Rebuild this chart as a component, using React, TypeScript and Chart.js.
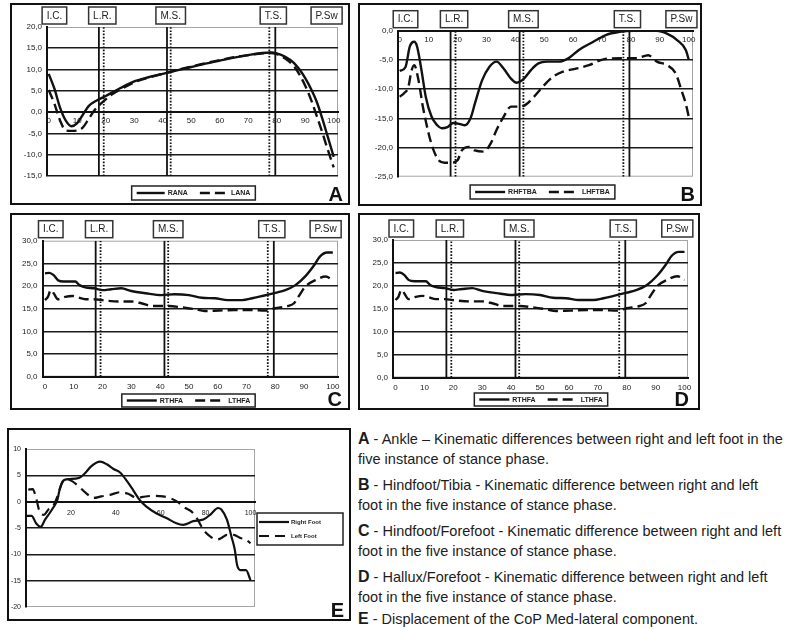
import React, { useEffect, useRef } from 'react';
import { Chart, registerables } from 'chart.js';

Chart.register(...registerables);

const FONT = '"Liberation Sans", Arial, sans-serif';

// ---- shared stance-phase annotations (% of stance) ----
const phaseSolid = [17.6, 41.5, 79.5];
const phaseDotted = [19.3, 42.8, 77.4];
const phaseNames = ['I.C.', 'L.R.', 'M.S.', 'T.S.', 'P.Sw'];
const phaseNameAt = [2, 18.8, 42.8, 78.8, 97.5];

// ---- tick values ----
const stanceTicks = [0, 10, 20, 30, 40, 50, 60, 70, 80, 90, 100];
const copXTicks = [20, 40, 60, 80, 100];
const ankleYTicks = [-15, -10, -5, 0, 5, 10, 15, 20];
const tibiaYTicks = [-25, -20, -15, -10, -5, 0];
const foreYTicks = [0, 5, 10, 15, 20, 25, 30];
const copYTicks = [-20, -15, -10, -5, 0, 5, 10];

// ---- A: ankle ----
const xRana = [0, 2, 4, 6, 8, 10, 12, 14, 17, 20, 25, 30, 35, 40, 45, 50, 55, 60, 65, 70, 75, 78, 80, 83, 86, 88, 90, 92, 94, 96, 98, 100];
const rana = [9.0, 5.5, 1.0, -2.0, -3.3, -2.6, -0.6, 1.4, 2.8, 3.8, 5.6, 7.2, 8.2, 9.0, 9.8, 10.6, 11.4, 12.1, 12.8, 13.4, 13.9, 14.0, 13.8, 13.0, 11.6, 10.0, 8.0, 5.5, 2.5, -1.5, -6.0, -10.5];
const xLana = [0, 2, 4, 6, 8, 10, 12, 14, 16, 18, 20, 22, 25, 30, 35, 40, 45, 50, 55, 60, 65, 70, 75, 78, 80, 83, 86, 88, 90, 92, 94, 96, 98, 100];
const lana = [5.2, 2.0, -2.0, -4.3, -4.4, -4.3, -3.6, -1.6, 0.4, 1.8, 3.0, 4.1, 5.3, 7.0, 8.1, 9.0, 9.9, 10.7, 11.5, 12.2, 12.9, 13.4, 13.8, 13.9, 13.6, 12.6, 10.8, 8.8, 6.2, 3.0, -0.8, -4.8, -9.0, -13.0];

// ---- B: hindfoot / tibia ----
const xRhftba = [0, 2, 3.5, 5, 6, 7.5, 9, 11, 13, 14.5, 16.5, 18.5, 21, 22.5, 24.5, 26, 28.5, 31, 33.5, 36, 38.5, 40.5, 43, 45.5, 48, 51, 55, 58.5, 62, 67, 71.5, 76, 81, 89, 92.5, 96, 99, 100];
const rhftba = [-6.9, -6.2, -2.7, -1.9, -2.7, -6.7, -11.3, -14.7, -16.2, -16.7, -16.5, -15.8, -16.0, -16.2, -15.0, -12.5, -8.5, -6.2, -5.3, -6.5, -8.2, -8.9, -8.2, -6.7, -5.6, -5.3, -5.3, -4.7, -3.3, -1.9, -0.7, -0.2, 0, 0, -0.5, -1.6, -3.3, -4.9];
const xLhftba = [0, 1.5, 3, 4, 5, 6.5, 8, 10, 11.5, 13.5, 15.5, 18, 20, 21.5, 24, 26, 29, 31.5, 33.5, 36, 38.5, 41.5, 43.5, 46.5, 49.5, 53, 56.5, 61, 65.5, 70.5, 77, 82, 86, 89, 92.5, 95.5, 97.5, 99, 100];
const lhftba = [-11.3, -10.7, -9.6, -7.0, -5.9, -8.5, -13.0, -17.6, -20.2, -22.2, -22.6, -22.6, -22.2, -20.5, -19.9, -20.5, -20.7, -19.3, -17.0, -14.7, -13.0, -13.0, -12.7, -11.3, -9.6, -7.9, -7.0, -6.5, -5.9, -4.9, -4.7, -4.7, -4.2, -5.3, -5.9, -7.3, -10.2, -12.5, -14.7];

// ---- C / D: forefoot ----
const xRthfa = [0, 1.5, 3, 4.5, 6.5, 8.5, 10.5, 12, 14, 17, 20, 23, 26.5, 30, 35, 40.5, 45, 50, 54.5, 59, 63.5, 68.5, 72, 75.5, 80, 83.5, 87, 90.5, 93.5, 95.5, 98, 100];
const rthfa = [22.8, 22.9, 22.4, 21.3, 21.0, 21.0, 21.0, 20.2, 19.7, 19.5, 19.1, 19.3, 19.5, 18.9, 18.4, 18.0, 18.2, 18.0, 17.4, 17.3, 16.9, 16.9, 17.3, 17.8, 18.5, 19.1, 20.2, 22.2, 24.6, 26.5, 27.4, 27.4];
const xLthfa = [0, 1, 2, 3, 4.5, 7, 9.5, 11.5, 14, 17, 21, 25.5, 30, 33.5, 37, 43, 47.5, 52, 55.5, 60.5, 66, 72, 76.5, 80, 84.5, 86.5, 88, 90.5, 94, 97.5, 100];
const lthfa = [16.9, 17.6, 19.1, 18.4, 17.1, 17.6, 17.8, 17.5, 17.1, 17.1, 16.8, 16.6, 16.6, 16.2, 15.6, 15.6, 15.3, 14.9, 14.5, 14.6, 14.7, 14.7, 14.6, 15.1, 15.6, 16.2, 17.6, 19.9, 21.3, 22.1, 21.3];

// ---- E: CoP med-lateral ----
const xRightFoot = [0, 2.5, 4.5, 6.5, 8.5, 10.5, 12, 14, 15, 17, 19.5, 23.5, 26.5, 29, 33, 36, 39, 42, 45, 48, 50.5, 53.5, 58, 62.5, 67, 70, 74.5, 79, 82.5, 85.5, 87, 89.5, 91.5, 93, 94, 95.5, 98, 100];
const rightFoot = [-2.7, -2.7, -4.1, -4.8, -3.4, -2.2, -1.2, 0.4, 2.3, 4.1, 4.3, 4.5, 5.5, 6.7, 7.6, 7.1, 6.2, 5.5, 3.9, 2.0, 0.4, -0.9, -2.2, -3.1, -4.1, -4.4, -3.7, -3.4, -2.3, -1.2, -1.5, -3.4, -6.6, -9.1, -12.0, -13.0, -13.0, -14.9];
const xLeftFoot = [1, 3, 4.5, 6, 8, 10, 12, 14, 16, 18, 20.5, 23.5, 26.5, 30, 33.5, 37.5, 42, 45.5, 49.5, 52, 56.5, 61, 64, 67, 71, 73.5, 76, 79, 82, 85, 87, 89.5, 92.5, 95.5, 98, 100];
const leftFoot = [2.3, 2.4, 0.7, -1.8, -2.5, -1.5, -0.9, 1.0, 3.6, 4.3, 3.9, 2.9, 1.7, 0.7, 1.0, 1.3, 1.8, 1.5, 0.7, 0.9, 1.1, 1.0, 0.7, 0.1, -1.2, -1.8, -3.1, -5.3, -6.6, -7.2, -6.9, -6.3, -6.3, -6.9, -7.2, -7.9];

// ---- caption ----
const captionKeys = ['A', 'B', 'C', 'D', 'E'];
const captionLine1 = [
  ' - Ankle \u2013 Kinematic differences between right and left foot in the',
  ' - Hindfoot/Tibia - Kinematic difference between right and left',
  ' - Hindfoot/Forefoot - Kinematic difference between right and left',
  ' - Hallux/Forefoot - Kinematic difference between right and left',
  ' - Displacement of the CoP Med-lateral component.',
];
const captionLine2 = [
  'five instance of stance phase.',
  'foot in the five instance of stance phase.',
  'foot in the five instance of stance phase.',
  'foot in the five instance of stance phase.',
  '',
];

type Series = { label: string; xs: number[]; ys: number[]; dashed: boolean };
type PanelSpec = {
  frame: [number, number, number, number];
  area: [number, number, number, number];
  xMin: number; xMax: number; xTicks: number[];
  yMin: number; yMax: number; yTicks: number[];
  yDecimals: number;
  hideGrid: number[];
  series: Series[];
  phases: boolean;
  tickFont: number;
  xPad: number;
  lineWidth: number;
  dash: number[];
  legend: any;
  letter: { text: string; right: number; baseline: number };
};

const decoPlugin = {
  id: 'deco',
  beforeDraw(chart: any) {
    const { ctx, chartArea: a } = chart;
    ctx.save();
    ctx.strokeStyle = '#a5a5a5';
    ctx.lineWidth = 1;
    ctx.strokeRect(a.left + 0.5, a.top + 0.5, a.right - a.left - 1, a.bottom - a.top - 1);
    ctx.restore();
  },
  afterDraw(chart: any, _args: any, opts: any) {
    const { ctx, chartArea: a, scales } = chart;
    ctx.save();
    if (opts.phases) {
      ctx.font = `10px ${FONT}`;
      ctx.textAlign = 'center';
      ctx.textBaseline = 'middle';
      phaseNames.forEach((name, i) => {
        const px = scales.x.getPixelForValue(phaseNameAt[i]);
        const w = ctx.measureText(name).width + 9;
        const h = 17;
        const top = a.top - 3 - h;
        ctx.fillStyle = '#fff';
        ctx.fillRect(px - w / 2, top, w, h);
        ctx.strokeStyle = '#333';
        ctx.lineWidth = 1.5;
        ctx.strokeRect(px - w / 2, top, w, h);
        ctx.fillStyle = '#222';
        ctx.fillText(name, px, top + h / 2 + 0.5);
      });
    }
    const items = chart.data.datasets.filter((d: any) => !d.phase);
    const lg = opts.legend;
    ctx.font = `bold ${lg.fontSize}px ${FONT}`;
    ctx.textBaseline = 'middle';
    ctx.textAlign = 'left';
    const drawSample = (d: any, x: number, y: number, len: number) => {
      ctx.strokeStyle = '#111';
      ctx.lineWidth = d.borderWidth;
      ctx.setLineDash(d.borderDash || []);
      ctx.beginPath();
      ctx.moveTo(x, y);
      ctx.lineTo(x + len, y);
      ctx.stroke();
      ctx.setLineDash([]);
    };
    if (!lg.vertical) {
      const widths = items.map((d: any) => lg.sample + 3 + ctx.measureText(d.label).width);
      const total = widths.reduce((s: number, w: number) => s + w, 0) + lg.gap * (items.length - 1) + lg.pad * 2;
      const left = lg.cx - total / 2;
      ctx.fillStyle = '#fff';
      ctx.fillRect(left, lg.top, total, lg.height);
      ctx.strokeStyle = '#222';
      ctx.lineWidth = 1.5;
      ctx.strokeRect(left, lg.top, total, lg.height);
      let x = left + lg.pad;
      const y = lg.top + lg.height / 2;
      items.forEach((d: any, i: number) => {
        drawSample(d, x, y, lg.sample);
        ctx.fillStyle = '#222';
        ctx.fillText(d.label, x + lg.sample + 3, y + 0.5);
        x += widths[i] + lg.gap;
      });
    } else {
      ctx.fillStyle = '#fff';
      ctx.fillRect(lg.left, lg.top, lg.width, lg.height);
      ctx.strokeStyle = '#222';
      ctx.lineWidth = 1.5;
      ctx.strokeRect(lg.left, lg.top, lg.width, lg.height);
      items.forEach((d: any, i: number) => {
        const y = lg.top + lg.rowTop + i * lg.rowGap;
        drawSample(d, lg.left + 2, y, lg.sample);
        ctx.fillStyle = '#222';
        ctx.fillText(d.label, lg.left + 4 + lg.sample, y + 0.5);
      });
    }
    const lt = opts.letter;
    ctx.font = `bold 20px ${FONT}`;
    ctx.textAlign = 'right';
    ctx.textBaseline = 'alphabetic';
    ctx.fillStyle = '#111';
    ctx.fillText(lt.text, lt.right, lt.baseline);
    ctx.restore();
  },
};

function buildConfig(s: PanelSpec): any {
  const ox = s.frame[0] + 2;
  const oy = s.frame[1] + 2;
  const cw = s.frame[2] - 4;
  const ch = s.frame[3] - 4;
  const L = s.area[0] - ox;
  const T = s.area[1] - oy;
  const R = s.area[2] - ox;
  const B = s.area[3] - oy;
  const padLeft = 1;
  const yWidth = L - padLeft;
  const datasets: any[] = s.series.map((se) => ({
    label: se.label,
    data: se.xs.map((x, i) => ({ x, y: se.ys[i] })),
    borderColor: '#111',
    borderWidth: s.lineWidth,
    borderDash: se.dashed ? s.dash : [],
    pointRadius: 0,
    fill: false,
    cubicInterpolationMode: 'monotone',
    order: 0,
  }));
  if (s.phases) {
    phaseSolid.forEach((v) =>
      datasets.push({ label: '', phase: true, data: [{ x: v, y: s.yMin }, { x: v, y: s.yMax }], borderColor: '#111', borderWidth: 1.8, borderDash: [], pointRadius: 0, order: 1 })
    );
    phaseDotted.forEach((v) =>
      datasets.push({ label: '', phase: true, data: [{ x: v, y: s.yMin }, { x: v, y: s.yMax }], borderColor: '#111', borderWidth: 1.8, borderDash: [1.6, 1.6], pointRadius: 0, order: 1 })
    );
  }
  const lg = { ...s.legend };
  if (lg.vertical) {
    lg.left -= ox;
    lg.top -= oy;
  } else {
    lg.cx -= ox;
    lg.top -= oy;
  }
  return {
    type: 'line',
    data: { datasets },
    options: {
      animation: false,
      responsive: false,
      devicePixelRatio: 1,
      events: [],
      layout: { padding: { left: padLeft, top: T, right: cw - R, bottom: ch - B } },
      plugins: {
        legend: { display: false },
        tooltip: { enabled: false },
        deco: {
          phases: s.phases,
          legend: lg,
          letter: { text: s.letter.text, right: s.letter.right - ox, baseline: s.letter.baseline - oy },
        },
      },
      scales: {
        x: {
          type: 'linear',
          min: s.xMin,
          max: s.xMax,
          position: { y: 0 },
          afterBuildTicks: (sc: any) => {
            sc.ticks = s.xTicks.map((value) => ({ value }));
          },
          ticks: {
            font: { family: FONT, size: s.tickFont },
            color: '#222',
            padding: s.xPad,
            maxRotation: 0,
            autoSkip: false,
            callback: (v: any) => String(v),
          },
          grid: { display: false, drawTicks: false, tickLength: 0 },
          border: { display: true, color: '#111', width: 2, dash: [2, 1.6] },
        },
        y: {
          type: 'linear',
          min: s.yMin,
          max: s.yMax,
          afterFit: (sc: any) => {
            sc.width = yWidth;
          },
          afterBuildTicks: (sc: any) => {
            sc.ticks = s.yTicks.map((value) => ({ value }));
          },
          ticks: {
            font: { family: FONT, size: s.tickFont },
            color: '#222',
            padding: 5,
            callback: (v: any) => (s.yDecimals ? Number(v).toFixed(1).replace('.', ',') : String(v)),
          },
          grid: {
            drawTicks: false,
            tickLength: 0,
            lineWidth: 1.6,
            color: (c: any) => (c.tick && s.hideGrid.indexOf(c.tick.value) >= 0 ? 'rgba(0,0,0,0)' : '#1a1a1a'),
          },
          border: { display: true, color: '#111', width: 2 },
        },
      },
    },
    plugins: [decoPlugin],
  };
}

const panels: PanelSpec[] = [
  {
    frame: [10, 3, 340, 202],
    area: [47, 27, 338, 176],
    xMin: -0.6, xMax: 101.5, xTicks: stanceTicks,
    yMin: -15, yMax: 20, yTicks: ankleYTicks, yDecimals: 1,
    hideGrid: [0, 20],
    series: [
      { label: 'RANA', xs: xRana, ys: rana, dashed: false },
      { label: 'LANA', xs: xLana, ys: lana, dashed: true },
    ],
    phases: true, tickFont: 8, xPad: 4, lineWidth: 2.4, dash: [10, 5],
    legend: { cx: 193.5, top: 186, height: 14, sample: 28, gap: 12, pad: 5, fontSize: 7 },
    letter: { text: 'A', right: 343, baseline: 201 },
  },
  {
    frame: [358, 3, 344, 203],
    area: [398, 30.7, 693, 176.7],
    xMin: -0.6, xMax: 101.5, xTicks: stanceTicks,
    yMin: -25, yMax: 0, yTicks: tibiaYTicks, yDecimals: 1,
    hideGrid: [0, -25],
    series: [
      { label: 'RHFTBA', xs: xRhftba, ys: rhftba, dashed: false },
      { label: 'LHFTBA', xs: xLhftba, ys: lhftba, dashed: true },
    ],
    phases: true, tickFont: 8, xPad: 4, lineWidth: 2.4, dash: [10, 5],
    legend: { cx: 542.5, top: 185, height: 14, sample: 30, gap: 12, pad: 5, fontSize: 7 },
    letter: { text: 'B', right: 695, baseline: 201 },
  },
  {
    frame: [10, 213, 340, 197],
    area: [42.5, 240.7, 338, 376.7],
    xMin: -0.87, xMax: 101.8, xTicks: stanceTicks,
    yMin: 0, yMax: 30, yTicks: foreYTicks, yDecimals: 1,
    hideGrid: [0, 30],
    series: [
      { label: 'RTHFA', xs: xRthfa, ys: rthfa, dashed: false },
      { label: 'LTHFA', xs: xLthfa, ys: lthfa, dashed: true },
    ],
    phases: true, tickFont: 8, xPad: 5, lineWidth: 2.4, dash: [10, 5],
    legend: { cx: 188.5, top: 394, height: 13, sample: 30, gap: 12, pad: 5, fontSize: 7 },
    letter: { text: 'C', right: 342, baseline: 406 },
  },
  {
    frame: [358, 213, 342, 197],
    area: [393, 240, 688, 377.5],
    xMin: -0.87, xMax: 101.2, xTicks: stanceTicks,
    yMin: 0, yMax: 30, yTicks: foreYTicks, yDecimals: 1,
    hideGrid: [0, 30],
    series: [
      { label: 'RTHFA', xs: xRthfa, ys: rthfa, dashed: false },
      { label: 'LTHFA', xs: xLthfa, ys: lthfa, dashed: true },
    ],
    phases: true, tickFont: 8, xPad: 5, lineWidth: 2.4, dash: [10, 5],
    legend: { cx: 541, top: 393, height: 13, sample: 30, gap: 12, pad: 5, fontSize: 7 },
    letter: { text: 'D', right: 689, baseline: 406 },
  },
  {
    frame: [7, 428, 344, 193],
    area: [26, 449, 255, 607],
    xMin: 0, xMax: 102, xTicks: copXTicks,
    yMin: -20, yMax: 10, yTicks: copYTicks, yDecimals: 0,
    hideGrid: [0, 10, -20],
    series: [
      { label: 'Right Foot', xs: xRightFoot, ys: rightFoot, dashed: false },
      { label: 'Left Foot', xs: xLeftFoot, ys: leftFoot, dashed: true },
    ],
    phases: false, tickFont: 7, xPad: 7, lineWidth: 2.2, dash: [10, 6],
    legend: { vertical: true, left: 257, top: 513, width: 86, height: 32, rowTop: 9, rowGap: 14, sample: 30, fontSize: 6 },
    letter: { text: 'E', right: 344, baseline: 617 },
  },
];

function Panel({ spec }: { spec: PanelSpec }) {
  const ref = useRef<HTMLCanvasElement>(null);
  useEffect(() => {
    const chart = new Chart(ref.current as HTMLCanvasElement, buildConfig(spec));
    return () => chart.destroy();
  }, [spec]);
  const [l, t, w, h] = spec.frame;
  return (
    <div
      style={{
        position: 'absolute',
        left: l,
        top: t,
        width: w,
        height: h,
        border: '2px solid #111',
        boxSizing: 'border-box',
        background: '#fff',
      }}
    >
      <canvas ref={ref} width={w - 4} height={h - 4} style={{ display: 'block', width: w - 4, height: h - 4 }} />
    </div>
  );
}

const captionY = [439, 485, 531, 577, 619];

export default function App() {
  return (
    <div style={{ position: 'absolute', left: 0, top: 0, width: 790, height: 629, overflow: 'hidden', background: '#fff' }}>
      {panels.map((p, i) => (
        <Panel key={i} spec={p} />
      ))}
      {captionKeys.map((k, i) => (
        <React.Fragment key={k}>
          <div
            style={{
              position: 'absolute',
              left: 358,
              top: captionY[i] - 10,
              height: 20,
              lineHeight: '20px',
              whiteSpace: 'nowrap',
              fontFamily: FONT,
              fontSize: 14.5,
              color: '#1c1c1c',
            }}
          >
            <span style={{ fontWeight: 'bold', fontSize: 16 }}>{k}</span>
            {captionLine1[i]}
          </div>
          {captionLine2[i] ? (
            <div
              style={{
                position: 'absolute',
                left: 358,
                top: captionY[i] + 20 - 10,
                height: 20,
                lineHeight: '20px',
                whiteSpace: 'nowrap',
                fontFamily: FONT,
                fontSize: 14.5,
                color: '#1c1c1c',
              }}
            >
              {captionLine2[i]}
            </div>
          ) : null}
        </React.Fragment>
      ))}
    </div>
  );
}
